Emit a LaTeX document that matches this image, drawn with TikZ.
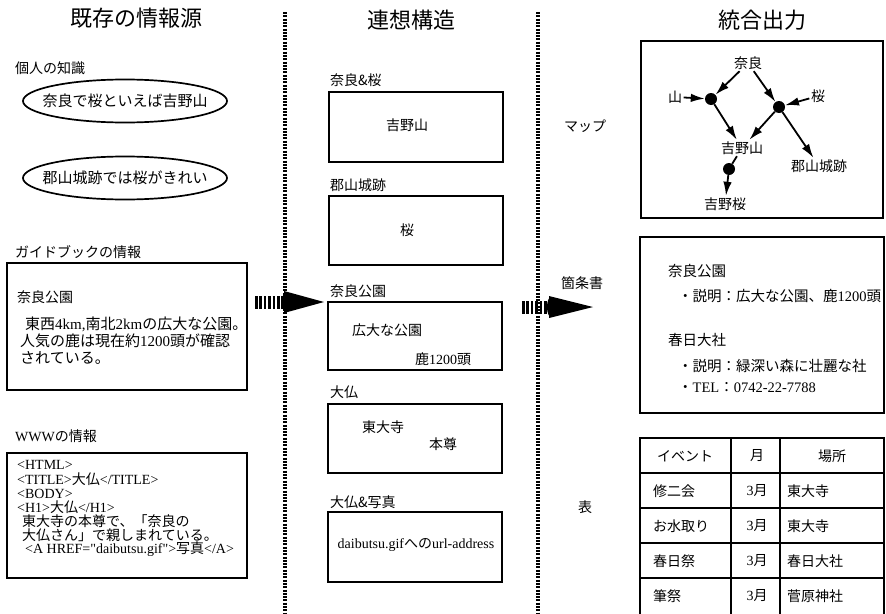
\documentclass[tikz,border=0pt]{standalone}
\usepackage{fontspec}
\setmainfont{Noto Sans CJK JP}
\newfontfamily\lat{Liberation Serif}
\usetikzlibrary{arrows.meta}
\newcommand\fs[1]{\fontsize{#1}{#1}\selectfont}
\tikzset{
  ttl/.style={font=\fs{22}},
  lbl/.style={anchor=west, inner sep=0pt, font=\fs{14}},
  htm/.style={anchor=west, inner sep=0pt, font=\fs{14}},
  oval/.style={line width=1.7pt},
  frame/.style={draw, line width=1.7pt, inner sep=0pt},
  sepline/.style={line width=3.2pt, dash pattern=on 2pt off 1.3pt},
  dot/.style={circle, fill, inner sep=0pt, minimum size=12pt},
  place/.style={inner sep=1.5pt, font=\fs{14}},
  marr/.style={line width=1.8pt, -{Latex[length=14pt,width=8.5pt]}},
  bigtail/.style={line width=13pt, dash pattern=on 2.6pt off 1.8pt},
  tbl/.style={line width=1.5pt},
}
\begin{document}
\begin{tikzpicture}[x=1pt, y=-1pt]
    \useasboundingbox (0,0) rectangle (886,613);
    % separators
    \draw[sepline] (285,12) -- (285,613);
    \draw[sepline] (538,12) -- (538,613);

    % existing sources
    \node[ttl] (srcT) at (136,18) {既存の情報源};
    \node[lbl] (knowT) at (15,68) {個人の知識};
    \node[font=\fs{15}] (ov1) at (125,101) {奈良で桜といえば吉野山};
    \draw[oval] (ov1.center) ellipse [x radius=102pt, y radius=21.5pt];
    \node[font=\fs{15}] (ov2) at (125,178) {郡山城跡では桜がきれい};
    \draw[oval] (ov2.center) ellipse [x radius=102pt, y radius=21.5pt];
    \node[lbl] (guideT) at (15,252) {ガイドブックの情報};
    \node[frame, minimum width=240pt, minimum height=127pt] (guide) at (127,326.5) {};
    \node[lbl] (guideH) at (17,297) {奈良公園};
    \node[lbl, font=\fs{15}] (guide1) at (25,324) {東西{\lat 4km,}南北{\lat 2km}の広大な公園。};
    \node[lbl, font=\fs{15}] (guide2) at (20,341) {人気の鹿は現在約{\lat 1200}頭が確認};
    \node[lbl, font=\fs{15}] (guide3) at (20,358) {されている。};
    \node[lbl] (wwwT) at (15,436) {{\lat WWW}の情報};
    \node[frame, minimum width=240pt, minimum height=125pt] (www) at (127,515.5) {};
    \node[htm] (h1) at (17,465) {\lat <HTML>};
    \node[htm] (h2) at (17,479) {{\lat <TITLE>}大仏{\lat </TITLE>}};
    \node[htm] (h3) at (17,494) {\lat <BODY>};
    \node[htm] (h4) at (17,507) {{\lat <H1>}大仏{\lat </H1>}};
    \node[htm] (h5) at (22,521) {東大寺の本尊で、「奈良の};
    \node[htm] (h6) at (22,535) {大仏さん」で親しまれている。};
    \node[htm] (h7) at (25,549) {{\lat <A HREF="daibutsu.gif">}写真{\lat </A>}};

    % association structure
    \node[ttl] (assocT) at (411,20) {連想構造};
    \node[lbl] (b1T) at (330,80) {奈良\&桜};
    \node[frame, minimum width=174pt, minimum height=70pt] (b1) at (416,127) {};
    \node[font=\fs{14}] (b1a) at (407,125) {吉野山};
    \node[lbl] (b2T) at (330,185) {郡山城跡};
    \node[frame, minimum width=174pt, minimum height=69pt] (b2) at (416,230.5) {};
    \node[font=\fs{14}] (b2a) at (407,230) {桜};
    \node[lbl] (b3T) at (330,291) {奈良公園};
    \node[frame, minimum width=174pt, minimum height=68pt] (b3) at (415,336) {};
    \node[font=\fs{14}] (b3a) at (387,330) {広大な公園};
    \node[font=\fs{14}] (b3b) at (443,359) {鹿{\lat 1200}頭};
    \node[lbl] (b4T) at (330,392) {大仏};
    \node[frame, minimum width=174pt, minimum height=69pt] (b4) at (415,438.5) {};
    \node[font=\fs{14}] (b4a) at (383,427) {東大寺};
    \node[font=\fs{14}] (b4b) at (443,444) {本尊};
    \node[lbl] (b5T) at (330,502) {大仏\&写真};
    \node[frame, minimum width=174pt, minimum height=70pt] (b5) at (415,547) {};
    \node[font=\fs{14}] (b5a) at (416,545) {{\lat daibutsu.gif}への{\lat url-address}};

    % big arrows
    \coordinate (ar1s) at (255,302); \coordinate (ar1m) at (284,302); \coordinate (ar1e) at (324,302);
    \draw[bigtail] (ar1s) -- (ar1m);
    \fill ([xshift=2pt]ar1m) ellipse (4pt and 10pt);
    \fill ([yshift=11pt]ar1m) -- (ar1e) -- ([yshift=-11pt]ar1m) -- cycle;
    \coordinate (ar2s) at (522,307); \coordinate (ar2m) at (549,307); \coordinate (ar2e) at (593,307);
    \draw[bigtail] (ar2s) -- (ar2m);
    \fill ([xshift=2pt]ar2m) ellipse (4pt and 10pt);
    \fill ([yshift=11pt]ar2m) -- (ar2e) -- ([yshift=-11pt]ar2m) -- cycle;

    % integrated output
    \node[ttl] (outT) at (762,20) {統合出力};
    \node[font=\fs{14}] (mapT) at (585,126) {マップ};
    \node[frame, minimum width=242pt, minimum height=177pt] (mapbox) at (762,129.5) {};
    \node[place] (nara) at (748,63) {奈良};
    \node[dot] (d1) at (711,99) {};
    \node[place] (yama) at (675,97) {山};
    \node[dot] (d2) at (779,107) {};
    \node[place] (sakura) at (818,96) {桜};
    \node[place] (yoshino) at (742,148) {吉野山};
    \node[place] (koriyama) at (819,166) {郡山城跡};
    \node[dot] (d3) at (729,169) {};
    \node[place] (ysakura) at (725,204) {吉野桜};
    \draw[marr] (nara) -- (d1);
    \draw[marr] (yama) -- (d1);
    \draw[marr] (d1) -- (yoshino);
    \draw[marr] (nara) -- (d2);
    \draw[marr] (sakura) -- (d2);
    \draw[marr] (d2) -- (yoshino);
    \draw[marr] (d2) -- (koriyama);
    \draw[line width=1.8pt] (yoshino) -- (d3);
    \draw[marr] (d3) -- (ysakura);

    \node[font=\fs{14}] (listT) at (582,283) {箇条書};
    \node[frame, minimum width=244pt, minimum height=176pt] (listbox) at (762,325) {};
    \node[lbl, font=\fs{14.5}] (l1) at (668,271) {奈良公園};
    \node[lbl, font=\fs{14.5}] (l2) at (678,296) {・説明：広大な公園、鹿{\lat 1200}頭};
    \node[lbl, font=\fs{14.5}] (l3) at (668,340) {春日大社};
    \node[lbl, font=\fs{14.5}] (l4) at (678,366) {・説明：緑深い森に壮麗な社};
    \node[lbl, font=\fs{14.5}] (l5) at (678,388) {・{\lat TEL}：{\lat 0742-22-7788}};

    \node[font=\fs{14}] (tblT) at (585,507) {表};
    \draw[tbl] (640,614) -- (640,438) -- (884,438) -- (884,614);
    \draw[tbl] (731,438) -- (731,614) (780,438) -- (780,614);
    \foreach \y in {473,508,543,578} \draw[tbl] (640,\y) -- (884,\y);
    \node[font=\fs{14}] (hEv) at (685,456) {イベント};
    \node[font=\fs{14}] (hMo) at (757,456) {月};
    \node[font=\fs{14}] (hPl) at (832,456) {場所};
    \foreach \y/\ev/\pl in {491/修二会/東大寺, 526/お水取り/東大寺, 561/春日祭/春日大社, 596/筆祭/菅原神社} {
        \node[lbl] (ev\y) at (653,\y) {\ev};
        \node[font=\fs{14}] (mo\y) at (757,\y) {{\lat 3}月};
        \node[lbl] (pl\y) at (787,\y) {\pl};
    }
\end{tikzpicture}
\end{document}
